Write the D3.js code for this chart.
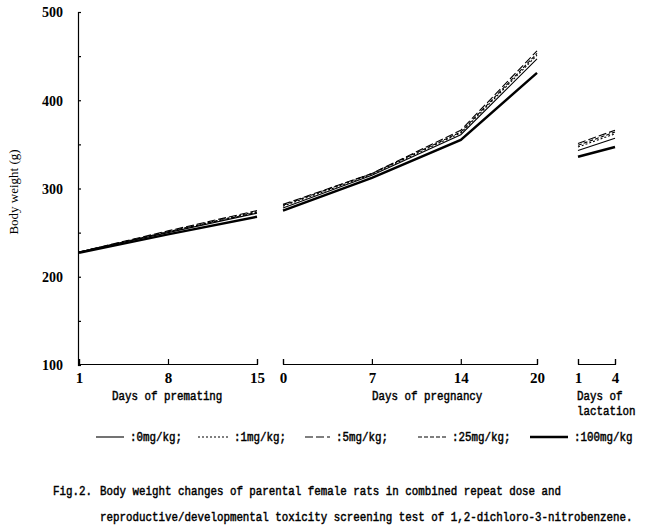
<!DOCTYPE html>
<html><head><meta charset="utf-8">
<script src="https://cdn.jsdelivr.net/npm/d3@7"></script>
<style>
html,body{margin:0;padding:0;background:#fff;}
svg{display:block;}
</style>
</head><body>
<svg id="chart" width="648" height="529"></svg>
<script>
// ---- data ----
const doses = ["0mg/kg", "1mg/kg", "5mg/kg", "25mg/kg", "100mg/kg"];
const legendLabels = [":0mg/kg;", ":1mg/kg;", ":5mg/kg;", ":25mg/kg;", ":100mg/kg"];
const prematingDays = [1, 8, 15];
const pregnancyDays = [0, 7, 14, 20];
const lactationDays = [1, 4];
const prematingTicks = [1, 8, 15];
const pregnancyTicks = [0, 7, 14, 20];
const lactationTicks = [1, 4];
const yTicks = [100, 150, 200, 250, 300, 350, 400, 450, 500];
// body weight (g), one row per dose group
const prematingWeights = [
  [228, 250, 272],
  [228, 251, 274],
  [228, 252, 275],
  [228, 251, 273],
  [227, 248, 268]
];
const pregnancyWeights = [
  [278, 315, 361, 447],
  [280, 316, 363, 451],
  [282, 317, 366, 456],
  [281, 317, 364, 453],
  [275, 312, 355, 431]
];
const lactationWeights = [
  [343, 357],
  [347, 362],
  [351, 366],
  [349, 364],
  [336, 347]
];

// ---- styles ----
const lineStyles = [
  {w: 1.1, dash: null},
  {w: 1.1, dash: "2,2"},
  {w: 1.1, dash: "8,3"},
  {w: 1.1, dash: "4,2"},
  {w: 2.4, dash: null}
];

const svg = d3.select("#chart");
const serif = "'Liberation Serif', 'DejaVu Serif', serif";
const mono = "'Liberation Mono', 'DejaVu Sans Mono', monospace";
const CHAR = 6.5;

const y = d3.scaleLinear().domain([100, 500]).range([365, 12]);
const xPre = d3.scaleLinear().domain([1, 15]).range([79, 257]);
const xPreg = d3.scaleLinear().domain([0, 20]).range([283, 537]);
const xLac = d3.scaleLinear().domain([1, 4]).range([578, 615]);

// y axis
const yAxis = d3.axisLeft(y).tickValues(yTicks)
  .tickSizeInner(-3).tickSizeOuter(-3).tickPadding(15)
  .tickFormat(d => d % 100 === 0 ? d : "");
const gy = svg.append("g").attr("transform", "translate(78,0)").call(yAxis);
gy.selectAll("path, line").attr("stroke", "#000").attr("stroke-width", 1.2);
gy.selectAll("text").attr("font-family", serif).attr("font-size", 15).attr("fill", "#000")
  .attr("font-weight", "bold").attr("textLength", 21).attr("lengthAdjust", "spacingAndGlyphs");

svg.append("text").attr("transform", "translate(18,192) rotate(-90)")
  .attr("text-anchor", "middle").attr("font-family", serif).attr("font-size", 13)
  .text("Body weight (g)");

// x axes
function xAxisSeg(scale, ticks) {
  const ax = d3.axisBottom(scale).tickValues(ticks).tickFormat(d3.format("d"))
    .tickSizeInner(-5).tickSizeOuter(-5).tickPadding(8);
  const g = svg.append("g").attr("transform", "translate(0,364)").call(ax);
  g.selectAll("path, line").attr("stroke", "#000").attr("stroke-width", 1.2);
  g.selectAll("text").attr("font-family", serif).attr("font-size", 15).attr("fill", "#000")
    .attr("font-weight", "bold");
  return g;
}
xAxisSeg(xPre, prematingTicks);
xAxisSeg(xPreg, pregnancyTicks);
xAxisSeg(xLac, lactationTicks);

// monospace text: font size chosen so its natural width is ch px per char,
// stretched vertically to mimic the tall half-width Mincho glyphs
const monoText = (x, yy, txt, ch, sy) => svg.append("text")
  .attr("transform", `translate(${x},${yy}) scale(1,${sy || 1.15})`)
  .attr("font-family", mono).attr("font-size", (ch || CHAR) / 0.6)
  .attr("fill", "#000").attr("stroke", "#000").attr("stroke-width", 0.4)
  .text(txt);

monoText(112, 400, "Days of premating");
monoText(372, 400, "Days of pregnancy");
monoText(577, 400, "Days of");
monoText(577, 415, "lactation");

// lines
function drawPhase(xs, days, weights) {
  const line = d3.line().x((d, i) => xs(days[i])).y(d => y(d));
  weights.forEach((w, k) => {
    svg.append("path").attr("d", line(w)).attr("fill", "none")
      .attr("stroke", "#000").attr("stroke-width", lineStyles[k].w)
      .attr("stroke-dasharray", lineStyles[k].dash);
  });
}
drawPhase(xPre, prematingDays, prematingWeights);
drawPhase(xPreg, pregnancyDays, pregnancyWeights);
drawPhase(xLac, lactationDays, lactationWeights);

// legend
const legX = [96, 198, 305, 418, 530];
const legW = [28, 30, 25, 28, 38];
const legY = 437;
doses.forEach((d, k) => {
  svg.append("line").attr("x1", legX[k]).attr("x2", legX[k] + legW[k])
    .attr("y1", legY).attr("y2", legY)
    .attr("stroke", "#000").attr("stroke-width", lineStyles[k].w)
    .attr("stroke-dasharray", lineStyles[k].dash);
  monoText(legX[k] + legW[k] + 6, legY + 4, legendLabels[k]);
});

// caption
monoText(53, 495, "Fig.2.", 6.5, 1.2);
monoText(100, 495, "Body weight changes of parental female rats in combined repeat dose and", 6.5, 1.2);
monoText(100, 521, "reproductive/developmental toxicity screening test of 1,2-dichloro-3-nitrobenzene.", 6.5, 1.2);
</script>
</body></html>
